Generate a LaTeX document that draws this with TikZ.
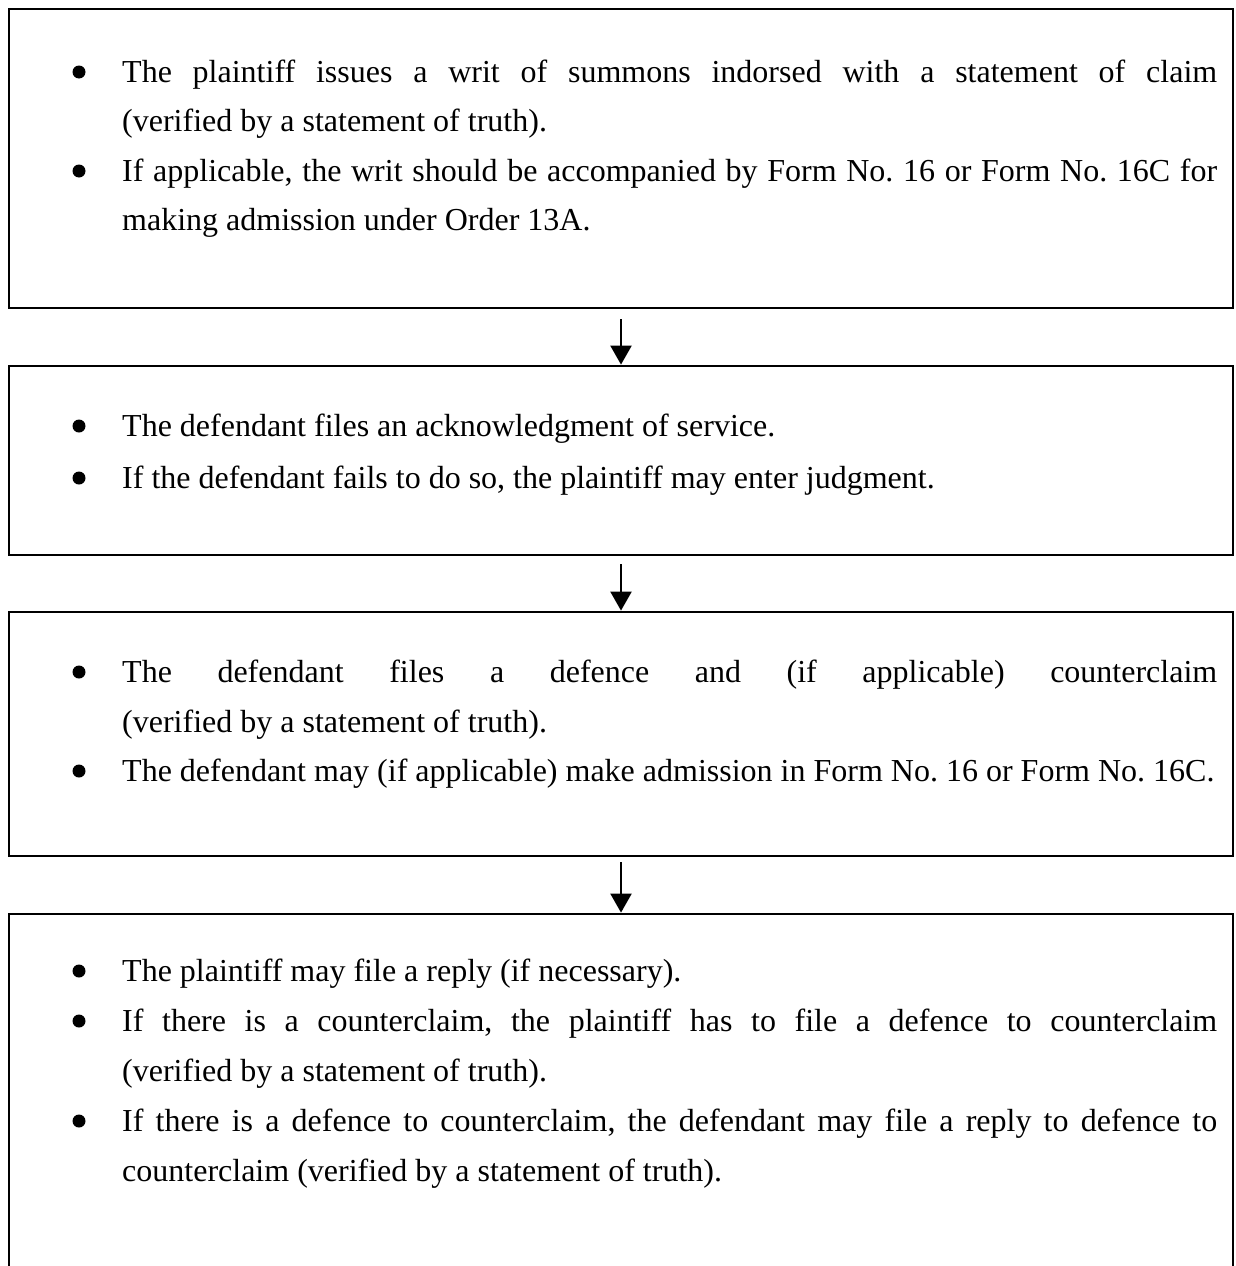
\documentclass[tikz,border=0pt]{standalone}
\usepackage{fontspec}
\setmainfont{Liberation Serif}
\usetikzlibrary{arrows.meta}
\tikzset{
  box/.style={draw, line width=2.8pt, rectangle, inner sep=0pt, minimum width=1224pt},
  arr/.style={line width=2.2pt, -{Triangle[length=19pt,width=21pt]}},
  txt/.style={anchor=base west, inner sep=0pt, font=\fontsize{32}{40}\selectfont},
  bul/.style={circle, fill, inner sep=0pt, minimum size=13pt},
}
\newcommand{\jline}[1]{\makebox[1095pt][s]{#1}}
\begin{document}
\frenchspacing
\begin{tikzpicture}[x=1pt,y=-1pt]
\clip (0,0) rectangle (1235,1266);
\fill[white] (0,0) rectangle (1235,1266);

% boxes
\node[box, minimum height=299pt] (b1) at (621,158.5) {};
\node[box, minimum height=189pt] (b2) at (621,460.5) {};
\node[box, minimum height=244pt] (b3) at (621,734) {};
\node[box, minimum height=386pt] (b4) at (621,1107) {};

% arrows
\draw[arr] ([yshift=-10pt]b1.south) -- (b2.north);
\draw[arr] ([yshift=-8pt]b2.south) -- (b3.north);
\draw[arr] ([yshift=-5pt]b3.south) -- (b4.north);

% box 1
\node[bul] (u11) at (79,72) {};
\node[txt] (t11) at (122,82) {\jline{The plaintiff issues a writ of summons indorsed with a statement of claim}};
\node[txt] (t12) at (122,131.5) {(verified by a statement of truth).};
\node[bul] (u12) at (79,171) {};
\node[txt] (t13) at (122,181) {\jline{If applicable, the writ should be accompanied by Form No. 16 or Form No. 16C for}};
\node[txt] (t14) at (122,230.5) {making admission under Order 13A.};

% box 2
\node[bul] (u21) at (79,426) {};
\node[txt] (t21) at (122,436) {The defendant files an acknowledgment of service.};
\node[bul] (u22) at (79,478) {};
\node[txt] (t22) at (122,488) {If the defendant fails to do so, the plaintiff may enter judgment.};

% box 3
\node[bul] (u31) at (79,672) {};
\node[txt] (t31) at (122,682) {\jline{The defendant files a defence and (if applicable) counterclaim}};
\node[txt] (t32) at (122,732) {(verified by a statement of truth).};
\node[bul] (u32) at (79,771) {};
\node[txt] (t33) at (122,781) {The defendant may (if applicable) make admission in Form No. 16 or Form No. 16C.};

% box 4
\node[bul] (u41) at (79,971) {};
\node[txt] (t41) at (122,981) {The plaintiff may file a reply (if necessary).};
\node[bul] (u42) at (79,1021) {};
\node[txt] (t42) at (122,1031) {\jline{If there is a counterclaim, the plaintiff has to file a defence to counterclaim}};
\node[txt] (t43) at (122,1081) {(verified by a statement of truth).};
\node[bul] (u43) at (79,1121) {};
\node[txt] (t44) at (122,1131) {\jline{If there is a defence to counterclaim, the defendant may file a reply to defence to}};
\node[txt] (t45) at (122,1181) {counterclaim (verified by a statement of truth).};
\end{tikzpicture}
\end{document}
